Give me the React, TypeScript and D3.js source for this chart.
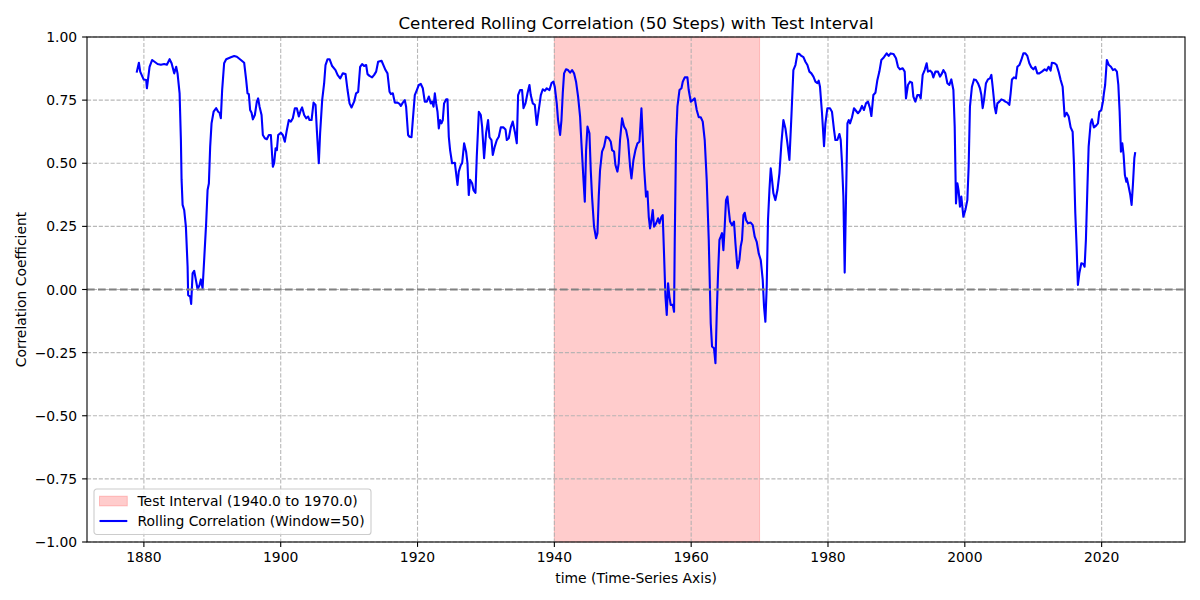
import React from "react";
import * as d3 from "d3";

const years: number[] = [
  1878.98, 1879.27, 1879.46, 1879.96, 1880.34, 1880.44, 1880.83, 1881.21, 1882.0, 1882.48,
  1882.97, 1883.36, 1883.76, 1884.05, 1884.43, 1884.72, 1884.92, 1885.22, 1885.41, 1885.51,
  1885.66, 1885.89, 1886.14, 1886.39, 1886.47, 1886.77, 1886.91, 1887.12, 1887.35, 1887.6,
  1887.85, 1888.14, 1888.33, 1888.58, 1888.81, 1889.1, 1889.31, 1889.5, 1889.69, 1889.89,
  1890.19, 1890.57, 1890.86, 1891.06, 1891.25, 1891.44, 1891.73, 1892.03, 1892.71, 1893.2,
  1893.59, 1894.18, 1894.66, 1894.95, 1895.15, 1895.34, 1895.53, 1895.74, 1895.93, 1896.22,
  1896.51, 1896.7, 1896.91, 1897.2, 1897.39, 1897.68, 1897.97, 1898.27, 1898.56, 1898.85,
  1899.04, 1899.25, 1899.44, 1899.63, 1900.02, 1900.31, 1900.6, 1900.9, 1901.19, 1901.48,
  1901.77, 1902.07, 1902.36, 1902.65, 1902.94, 1903.13, 1903.43, 1903.72, 1904.01, 1904.21,
  1904.51, 1904.8, 1905.09, 1905.28, 1905.57, 1905.76, 1906.06, 1906.35, 1906.55, 1906.85,
  1907.14, 1907.52, 1908.01, 1908.31, 1908.69, 1909.08, 1909.48, 1909.77, 1910.06, 1910.35,
  1910.73, 1911.02, 1911.32, 1911.61, 1911.9, 1912.19, 1912.49, 1912.69, 1912.98, 1913.36,
  1913.66, 1913.95, 1914.24, 1914.74, 1915.12, 1915.32, 1915.61, 1915.91, 1916.1, 1916.39,
  1916.68, 1917.07, 1917.37, 1917.56, 1917.85, 1918.14, 1918.33, 1918.62, 1918.83, 1919.12,
  1919.31, 1919.6, 1919.9, 1920.19, 1920.48, 1920.77, 1921.06, 1921.36, 1921.65, 1921.94,
  1922.13, 1922.34, 1922.53, 1922.72, 1922.92, 1923.11, 1923.3, 1923.5, 1923.69, 1923.88,
  1924.18, 1924.38, 1924.57, 1924.76, 1925.05, 1925.45, 1925.64, 1925.84, 1926.03, 1926.33,
  1926.52, 1926.81, 1927.1, 1927.3, 1927.49, 1927.68, 1927.98, 1928.18, 1928.47, 1928.66,
  1928.96, 1929.25, 1929.44, 1929.73, 1930.02, 1930.31, 1930.52, 1930.81, 1931.0, 1931.29,
  1931.59, 1931.88, 1932.17, 1932.57, 1932.86, 1933.05, 1933.34, 1933.63, 1933.92, 1934.22,
  1934.51, 1934.7, 1934.99, 1935.28, 1935.49, 1935.78, 1936.07, 1936.36, 1936.55, 1936.85,
  1937.14, 1937.43, 1937.72, 1938.02, 1938.31, 1938.6, 1938.89, 1939.29, 1939.58, 1939.87,
  1940.06, 1940.35, 1940.54, 1940.84, 1941.04, 1941.23, 1941.42, 1941.71, 1942.0, 1942.3,
  1942.59, 1942.88, 1943.17, 1943.47, 1943.76, 1943.96, 1944.26, 1944.45, 1944.64, 1944.84,
  1945.13, 1945.32, 1945.51, 1945.8, 1946.1, 1946.3, 1946.49, 1946.68, 1946.97, 1947.27,
  1947.56, 1947.95, 1948.25, 1948.44, 1948.73, 1948.93, 1949.22, 1949.41, 1949.6, 1949.9,
  1950.19, 1950.48, 1950.77, 1951.07, 1951.27, 1951.56, 1951.85, 1952.15, 1952.44, 1952.73,
  1952.92, 1953.11, 1953.4, 1953.61, 1953.8, 1953.99, 1954.19, 1954.38, 1954.57, 1954.87,
  1955.16, 1955.36, 1955.65, 1955.84, 1956.03, 1956.24, 1956.43, 1956.62, 1956.82, 1957.01,
  1957.31, 1957.5, 1957.6, 1957.79, 1957.99, 1958.29, 1958.58, 1958.77, 1959.06, 1959.45,
  1959.64, 1959.94, 1960.23, 1960.52, 1960.81, 1961.11, 1961.4, 1961.69, 1961.98, 1962.27,
  1962.57, 1962.86, 1963.05, 1963.34, 1963.55, 1963.74, 1963.93, 1964.13, 1964.32, 1964.51,
  1964.71, 1964.9, 1965.09, 1965.3, 1965.49, 1965.68, 1965.97, 1966.26, 1966.47, 1966.76,
  1967.05, 1967.24, 1967.43, 1967.64, 1967.83, 1968.02, 1968.31, 1968.7, 1969.0, 1969.29,
  1969.58, 1969.87, 1970.17, 1970.46, 1970.65, 1970.85, 1971.04, 1971.23, 1971.44, 1971.63,
  1971.82, 1972.02, 1972.31, 1972.61, 1972.9, 1973.19, 1973.48, 1973.78, 1974.07, 1974.36,
  1974.65, 1974.94, 1975.24, 1975.53, 1975.82, 1976.11, 1976.41, 1976.7, 1976.99, 1977.28,
  1977.57, 1977.87, 1978.16, 1978.45, 1978.64, 1978.83, 1979.12, 1979.42, 1979.62, 1979.91,
  1980.29, 1980.58, 1980.88, 1981.08, 1981.37, 1981.67, 1981.86, 1982.05, 1982.25, 1982.44,
  1982.63, 1982.84, 1983.03, 1983.22, 1983.51, 1983.8, 1984.09, 1984.38, 1984.68, 1984.97,
  1985.26, 1985.55, 1985.85, 1986.14, 1986.34, 1986.63, 1986.93, 1987.22, 1987.51, 1987.8,
  1988.18, 1988.58, 1988.87, 1989.16, 1989.56, 1989.94, 1990.23, 1990.52, 1990.92, 1991.21,
  1991.4, 1991.69, 1991.98, 1992.28, 1992.48, 1992.77, 1993.06, 1993.36, 1993.55, 1993.84,
  1994.13, 1994.42, 1994.61, 1994.91, 1995.2, 1995.4, 1995.7, 1996.08, 1996.37, 1996.66,
  1996.86, 1997.16, 1997.45, 1997.74, 1998.03, 1998.33, 1998.52, 1998.71, 1998.91, 1999.1,
  1999.29, 1999.49, 1999.79, 2000.08, 2000.37, 2000.56, 2000.75, 2001.04, 2001.34, 2001.63,
  2001.92, 2002.21, 2002.42, 2002.61, 2002.8, 2003.09, 2003.38, 2003.67, 2003.88, 2004.07,
  2004.36, 2004.55, 2004.76, 2005.05, 2005.34, 2005.63, 2005.92, 2006.22, 2006.51, 2006.7,
  2006.89, 2007.18, 2007.47, 2007.68, 2007.97, 2008.26, 2008.56, 2008.85, 2009.14, 2009.43,
  2009.72, 2010.02, 2010.31, 2010.6, 2010.89, 2011.27, 2011.67, 2011.96, 2012.25, 2012.54,
  2012.73, 2013.13, 2013.42, 2013.71, 2014.01, 2014.3, 2014.59, 2014.88, 2015.18, 2015.47,
  2015.76, 2015.95, 2016.15, 2016.34, 2016.53, 2016.74, 2017.03, 2017.32, 2017.51, 2017.7,
  2017.91, 2018.1, 2018.39, 2018.58, 2018.87, 2019.16, 2019.46, 2019.66, 2019.95, 2020.19,
  2020.33, 2020.51, 2020.76, 2021.06, 2021.36, 2021.65, 2021.94, 2022.23, 2022.44, 2022.63,
  2022.82, 2023.02, 2023.21, 2023.4, 2023.61, 2023.69, 2023.9, 2024.19, 2024.38, 2024.57,
  2024.78, 2024.89,
];

const correlation: number[] = [
  0.863, 0.898, 0.863, 0.832, 0.83, 0.797, 0.882, 0.909, 0.893, 0.89,
  0.893, 0.89, 0.912, 0.896, 0.856, 0.882, 0.856, 0.777, 0.592, 0.434,
  0.335, 0.315, 0.249, 0.09, -0.022, -0.028, -0.057, 0.064, 0.074, 0.038,
  0.001, 0.018, 0.04, 0.005, 0.117, 0.262, 0.394, 0.42, 0.566, 0.658,
  0.704, 0.718, 0.704, 0.7, 0.678, 0.79, 0.896, 0.912, 0.92, 0.925,
  0.922, 0.909, 0.898, 0.83, 0.777, 0.774, 0.711, 0.7, 0.674, 0.691,
  0.744, 0.757, 0.724, 0.691, 0.612, 0.599, 0.595, 0.612, 0.612, 0.486,
  0.5, 0.559, 0.552, 0.612, 0.621, 0.612, 0.585, 0.632, 0.671, 0.665,
  0.678, 0.718, 0.718, 0.685, 0.711, 0.721, 0.691, 0.678, 0.685, 0.671,
  0.671, 0.74, 0.731, 0.632, 0.5, 0.619, 0.75, 0.817, 0.889, 0.912,
  0.912, 0.885, 0.869, 0.85, 0.836, 0.856, 0.853, 0.79, 0.737, 0.721,
  0.744, 0.777, 0.783, 0.882, 0.893, 0.885, 0.889, 0.853, 0.846, 0.84,
  0.85, 0.863, 0.902, 0.906, 0.882, 0.869, 0.856, 0.783, 0.774, 0.777,
  0.74, 0.74, 0.735, 0.727, 0.74, 0.75, 0.724, 0.612, 0.605, 0.603,
  0.671, 0.77, 0.79, 0.81, 0.814, 0.797, 0.744, 0.744, 0.764, 0.737,
  0.744, 0.724, 0.777, 0.737, 0.704, 0.638, 0.671, 0.658, 0.671, 0.737,
  0.753, 0.753, 0.605, 0.552, 0.5, 0.502, 0.46, 0.414, 0.467, 0.493,
  0.5, 0.579, 0.546, 0.5, 0.374, 0.434, 0.421, 0.394, 0.383, 0.526,
  0.704, 0.691, 0.645, 0.52, 0.619, 0.671, 0.603, 0.592, 0.533, 0.566,
  0.592, 0.605, 0.642, 0.642, 0.634, 0.592, 0.599, 0.642, 0.665, 0.625,
  0.579, 0.77, 0.79, 0.79, 0.718, 0.737, 0.777, 0.81, 0.77, 0.737,
  0.731, 0.652, 0.711, 0.77, 0.793, 0.787, 0.797, 0.79, 0.817, 0.823,
  0.803, 0.737, 0.671, 0.612, 0.671, 0.777, 0.856, 0.872, 0.869, 0.859,
  0.869, 0.856, 0.823, 0.764, 0.685, 0.579, 0.434, 0.348, 0.552, 0.645,
  0.619, 0.473, 0.368, 0.249, 0.203, 0.223, 0.368, 0.473, 0.546, 0.566,
  0.605, 0.599, 0.585, 0.552, 0.546, 0.493, 0.467, 0.5, 0.592, 0.678,
  0.645, 0.632, 0.592, 0.486, 0.44, 0.513, 0.552, 0.579, 0.585, 0.718,
  0.605, 0.486, 0.368, 0.388, 0.288, 0.242, 0.275, 0.315, 0.249, 0.262,
  0.282, 0.262, 0.288, 0.295, 0.143, -0.028, -0.101, 0.025, -0.028, -0.061,
  -0.061, -0.088, 0.196, 0.592, 0.724, 0.79, 0.797, 0.823, 0.84, 0.84,
  0.79, 0.744, 0.75, 0.757, 0.711, 0.682, 0.682, 0.665, 0.592, 0.434,
  0.196, -0.134, -0.226, -0.233, -0.292, -0.094, 0.064, 0.196, 0.209, 0.223,
  0.156, 0.249, 0.354, 0.368, 0.315, 0.269, 0.255, 0.269, 0.183, 0.084,
  0.117, 0.17, 0.196, 0.295, 0.304, 0.275, 0.262, 0.265, 0.255, 0.209,
  0.189, 0.143, 0.117, 0.038, -0.068, -0.128, 0.011, 0.275, 0.394, 0.48,
  0.434, 0.381, 0.354, 0.394, 0.46, 0.579, 0.671, 0.638, 0.579, 0.513,
  0.685, 0.869, 0.889, 0.933, 0.933, 0.925, 0.92, 0.902, 0.889, 0.863,
  0.856, 0.843, 0.823, 0.817, 0.827, 0.803, 0.7, 0.568, 0.658, 0.718,
  0.718, 0.704, 0.632, 0.592, 0.592, 0.616, 0.592, 0.5, 0.368, 0.067,
  0.354, 0.658, 0.671, 0.658, 0.682, 0.718, 0.708, 0.698, 0.708, 0.727,
  0.711, 0.737, 0.744, 0.718, 0.687, 0.77, 0.779, 0.83, 0.863, 0.909,
  0.92, 0.935, 0.925, 0.935, 0.933, 0.916, 0.882, 0.872, 0.876, 0.863,
  0.757, 0.81, 0.823, 0.819, 0.764, 0.744, 0.77, 0.77, 0.757, 0.85,
  0.869, 0.896, 0.863, 0.867, 0.859, 0.84, 0.863, 0.863, 0.843, 0.856,
  0.869, 0.856, 0.817, 0.81, 0.832, 0.79, 0.645, 0.341, 0.421, 0.39,
  0.328, 0.368, 0.288, 0.315, 0.354, 0.486, 0.724, 0.803, 0.832, 0.83,
  0.817, 0.797, 0.77, 0.718, 0.75, 0.817, 0.832, 0.836, 0.85, 0.803,
  0.724, 0.698, 0.737, 0.744, 0.753, 0.75, 0.744, 0.74, 0.731, 0.777,
  0.832, 0.84, 0.836, 0.882, 0.889, 0.909, 0.935, 0.935, 0.925, 0.896,
  0.88, 0.872, 0.882, 0.856, 0.856, 0.863, 0.872, 0.867, 0.882, 0.867,
  0.898, 0.896, 0.889, 0.863, 0.83, 0.803, 0.685, 0.7, 0.685, 0.642,
  0.625, 0.5, 0.302, 0.17, 0.018, 0.064, 0.104, 0.101, 0.09, 0.196,
  0.394, 0.566, 0.658, 0.674, 0.642, 0.648, 0.658, 0.704, 0.711, 0.744,
  0.777, 0.81, 0.909, 0.889, 0.882, 0.869, 0.873, 0.863, 0.81, 0.704,
  0.546, 0.579, 0.533, 0.453, 0.427, 0.44, 0.414, 0.374, 0.335, 0.414,
  0.52, 0.54,
];

const xTicks: number[] = [1880, 1900, 1920, 1940, 1960, 1980, 2000, 2020];
const yTicks: number[] = [-1.0, -0.75, -0.5, -0.25, 0.0, 0.25, 0.5, 0.75, 1.0];
const testStart = 1940.0;
const testEnd = 1970.0;
const windowSize = 50;

const W = 1200;
const H = 600;
const M = { left: 87, right: 1185, top: 37, bottom: 542 };
const FONT = "'DejaVu Sans', sans-serif";

export default function App() {
  const xMin = d3.min(years)!;
  const xMax = d3.max(years)!;
  const pad = (xMax - xMin) * 0.05;
  const x = d3.scaleLinear().domain([xMin - pad, xMax + pad]).range([M.left, M.right]);
  const y = d3.scaleLinear().domain([-1, 1]).range([M.bottom, M.top]);

  const pts = years.map((t, i) => [t, correlation[i]] as [number, number]);
  const line = d3
    .line<[number, number]>()
    .x((d) => x(d[0]))
    .y((d) => y(d[1]));

  const fmtY = (v: number) => {
    const s = Math.abs(v).toFixed(2);
    return v < 0 ? "\u2212" + s : s;
  };

  const gridColor = "#b0b0b0";
  const legX = 94;
  const legY = 489;

  return (
    <svg
      width={W}
      height={H}
      style={{ position: "absolute", left: 0, top: 0, background: "#fff" }}
      fontFamily={FONT}
    >
      <rect x={0} y={0} width={W} height={H} fill="#fff" />
      {/* test interval span */}
      <rect
        x={x(testStart)}
        y={M.top}
        width={x(testEnd) - x(testStart)}
        height={M.bottom - M.top}
        fill="red"
        fillOpacity={0.2}
        stroke="red"
        strokeOpacity={0.2}
        strokeWidth={1}
      />
      {/* grid */}
      <g stroke={gridColor} strokeWidth={1.1} strokeDasharray="4.1,1.8" strokeOpacity={0.9}>
        {xTicks.map((t) => (
          <line key={"gx" + t} x1={x(t)} x2={x(t)} y1={M.top} y2={M.bottom} />
        ))}
        {yTicks.map((t) => (
          <line key={"gy" + t} x1={M.left} x2={M.right} y1={y(t)} y2={y(t)} />
        ))}
      </g>
      {/* rolling correlation */}
      <path d={line(pts) || ""} fill="none" stroke="#0000ff" strokeWidth={2.1} strokeLinejoin="round" strokeLinecap="square" />
      {/* zero line */}
      <line
        x1={M.left}
        x2={M.right}
        y1={y(0)}
        y2={y(0)}
        stroke="gray"
        strokeWidth={2.1}
        strokeDasharray="7.7,3.3"
      />
      {/* spines */}
      <rect
        x={M.left}
        y={M.top}
        width={M.right - M.left}
        height={M.bottom - M.top}
        fill="none"
        stroke="#000"
        strokeWidth={1.1}
      />
      {/* x ticks */}
      {xTicks.map((t) => (
        <g key={"xt" + t} transform={`translate(${x(t)},${M.bottom})`}>
          <line y1={0} y2={4.9} stroke="#000" strokeWidth={1.1} />
          <text y={9.8} dy="0.76em" textAnchor="middle" fontSize={13.9} fill="#000">
            {t}
          </text>
        </g>
      ))}
      {/* y ticks */}
      {yTicks.map((t) => (
        <g key={"yt" + t} transform={`translate(${M.left},${y(t)})`}>
          <line x1={0} x2={-4.9} stroke="#000" strokeWidth={1.1} />
          <text x={-9.8} dy="0.36em" textAnchor="end" fontSize={13.9} fill="#000">
            {fmtY(t)}
          </text>
        </g>
      ))}
      {/* title & labels */}
      <text x={(M.left + M.right) / 2} y={28.7} textAnchor="middle" fontSize={16.7} fill="#000">
        Centered Rolling Correlation ({windowSize} Steps) with Test Interval
      </text>
      <text x={(M.left + M.right) / 2} y={583} textAnchor="middle" fontSize={13.9} fill="#000">
        time (Time-Series Axis)
      </text>
      <text
        transform={`translate(26,${(M.top + M.bottom) / 2}) rotate(-90)`}
        textAnchor="middle"
        fontSize={13.9}
        fill="#000"
      >
        Correlation Coefficient
      </text>
      {/* legend */}
      <g transform={`translate(${legX},${legY})`}>
        <rect x={0} y={0} width={277} height={45.5} rx={2.8} fill="#fff" fillOpacity={0.8} stroke="#cccccc" strokeWidth={1.1} />
        <rect x={5.5} y={7.2} width={27.8} height={9.7} fill="red" fillOpacity={0.2} stroke="red" strokeOpacity={0.2} strokeWidth={1} />
        <text x={43.5} y={11.8} dy="0.36em" fontSize={13.9} fill="#000">
          Test Interval ({testStart.toFixed(1)} to {testEnd.toFixed(1)})
        </text>
        <line x1={5.5} x2={33.3} y1={32} y2={32} stroke="#0000ff" strokeWidth={2.1} />
        <text x={43.5} y={32} dy="0.36em" fontSize={13.9} fill="#000">
          Rolling Correlation (Window={windowSize})
        </text>
      </g>
    </svg>
  );
}
